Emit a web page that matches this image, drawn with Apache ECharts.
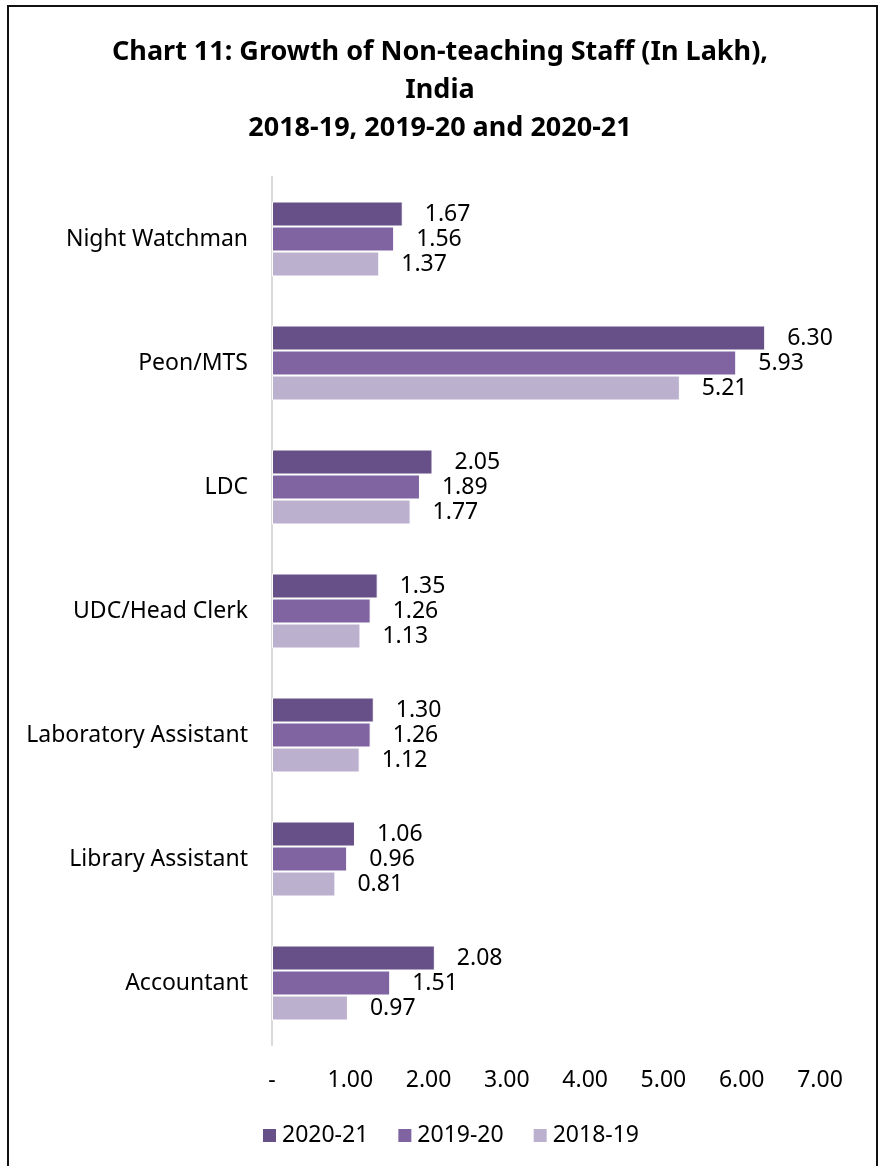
<!DOCTYPE html>
<html>
<head>
<meta charset="utf-8">
<script src="https://cdn.jsdelivr.net/npm/echarts@6/dist/echarts.min.js"></script>
<style>
  html, body { margin: 0; padding: 0; background: #fff; }
  #main { width: 880px; height: 1166px; }
  #frame {
    position: absolute; left: 7px; top: 5px; width: 867px; height: 1180px;
    border: 2px solid #111; pointer-events: none;
  }
</style>
</head>
<body>
<div id="main"></div>
<div id="frame"></div>
<script>
// categories, top to bottom
var categories = ['Night Watchman', 'Peon/MTS', 'LDC', 'UDC/Head Clerk',
  'Laboratory Assistant', 'Library Assistant', 'Accountant']
// staff in lakh
var y2020_21 = [1.67, 6.30, 2.05, 1.35, 1.30, 1.06, 2.08]
var y2019_20 = [1.56, 5.93, 1.89, 1.26, 1.26, 0.96, 1.51]
var y2018_19 = [1.37, 5.21, 1.77, 1.13, 1.12, 0.81, 0.97]
var seriesNames = ['2020-21', '2019-20', '2018-19']
var colors = ['#675087', '#8064a2', '#bcb0cf']

var font = 'Noto Sans'
var chart = echarts.init(document.getElementById('main'))

function makeSeries(name, data, color) {
  return {
    name: name,
    type: 'bar',
    data: data,
    barWidth: 25,
    barGap: '0%',
    itemStyle: { color: color, borderColor: '#fff', borderWidth: 1 },
    label: {
      show: true,
      position: 'right',
      distance: 22,
      color: '#000',
      fontFamily: font,
      fontSize: 23,
      formatter: function (p) { return p.value.toFixed(2) }
    }
  }
}

chart.setOption({
  animation: false,
  color: colors,
  title: {
    text: 'Chart 11: Growth of Non-teaching Staff (In Lakh),\nIndia\n2018-19, 2019-20 and 2020-21',
    left: 'center',
    top: 28,
    textStyle: {
      fontFamily: font,
      fontWeight: 'bold',
      fontSize: 27,
      lineHeight: 38,
      color: '#000'
    }
  },
  legend: {
    bottom: 14,
    left: 256,
    icon: 'rect',
    itemWidth: 15,
    itemHeight: 15,
    itemGap: 28,
    data: seriesNames,
    textStyle: { fontFamily: font, fontSize: 23, color: '#000' }
  },
  grid: {
    left: 272,
    right: 60,
    top: 177,
    bottom: 121,
    containLabel: false
  },
  xAxis: {
    type: 'value',
    min: 0,
    max: 7,
    interval: 1,
    splitLine: { show: false },
    axisLine: { show: false },
    axisTick: { show: false },
    axisLabel: {
      margin: 24,
      color: '#000',
      fontFamily: font,
      fontSize: 23,
      formatter: function (v) { return v === 0 ? '-' : v.toFixed(2) }
    }
  },
  yAxis: {
    type: 'category',
    inverse: true,
    data: categories,
    axisLine: { show: true, lineStyle: { color: '#d9d9d9', width: 2 } },
    axisTick: { show: false },
    axisLabel: {
      margin: 24,
      color: '#000',
      fontFamily: font,
      fontSize: 23
    }
  },
  series: [
    makeSeries(seriesNames[0], y2020_21, colors[0]),
    makeSeries(seriesNames[1], y2019_20, colors[1]),
    makeSeries(seriesNames[2], y2018_19, colors[2])
  ]
})
</script>
</body>
</html>
